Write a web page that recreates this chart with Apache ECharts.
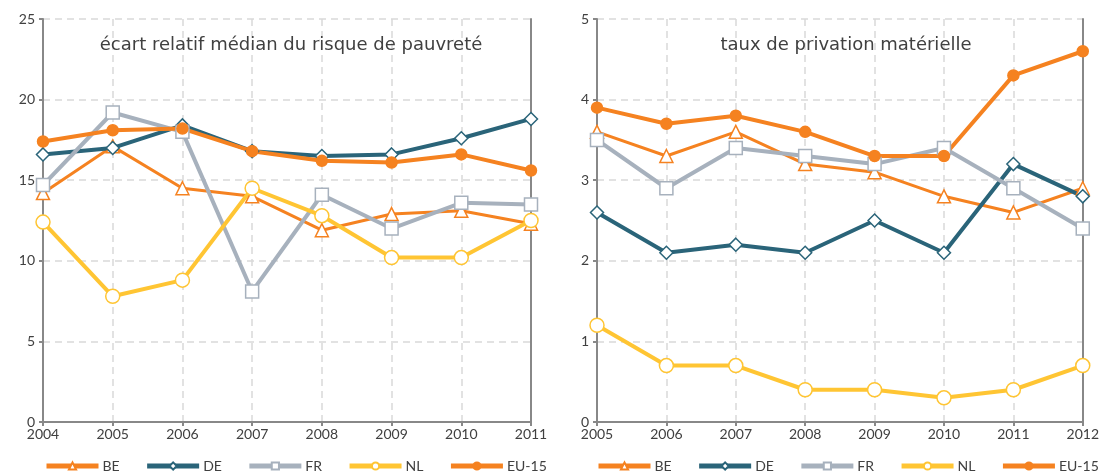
<!DOCTYPE html>
<html><head><meta charset="utf-8">
<script src="https://cdn.jsdelivr.net/npm/echarts@6/dist/echarts.min.js"></script>
<style>html,body{margin:0;padding:0;background:#fff}#c{width:1102px;height:476px}</style>
</head><body><div id="c"></div>
<script>
const seriesNames = ['BE','DE','FR','NL','EU-15'];
const yearsLeft = ['2004','2005','2006','2007','2008','2009','2010','2011'];
const yearsRight = ['2005','2006','2007','2008','2009','2010','2011','2012'];
const titleLeft = 'écart relatif médian du risque de pauvreté';
const titleRight = 'taux de privation matérielle';

const leftBE = [14.2, 17.1, 14.5, 14.0, 11.9, 12.9, 13.1, 12.3];
const leftDE = [16.6, 17.0, 18.4, 16.8, 16.5, 16.6, 17.6, 18.8];
const leftFR = [14.7, 19.2, 18.0, 8.1, 14.1, 12.0, 13.6, 13.5];
const leftNL = [12.4, 7.8, 8.8, 14.5, 12.8, 10.2, 10.2, 12.5];
const leftEU = [17.4, 18.1, 18.2, 16.8, 16.2, 16.1, 16.6, 15.6];

const rightBE = [3.6, 3.3, 3.6, 3.2, 3.1, 2.8, 2.6, 2.9];
const rightDE = [2.6, 2.1, 2.2, 2.1, 2.5, 2.1, 3.2, 2.8];
const rightFR = [3.5, 2.9, 3.4, 3.3, 3.2, 3.4, 2.9, 2.4];
const rightNL = [1.2, 0.7, 0.7, 0.4, 0.4, 0.3, 0.4, 0.7];
const rightEU = [3.9, 3.7, 3.8, 3.6, 3.3, 3.3, 4.3, 4.6];

const FONT = 'Lato';
const TFONT = 'DejaVu Sans';
const TXT = '#404040';
const AX = '#888888';
const GRIDC = '#d9d9d9';

const styles = {
  'BE':    {color:'#F58220', symbol:'triangle', size:13, width:3, fill:'#fff'},
  'DE':    {color:'#2A6479', symbol:'diamond', size:13, width:4, fill:'#fff'},
  'FR':    {color:'#A7B1BD', symbol:'rect', size:13, width:4, fill:'#fff'},
  'NL':    {color:'#FFC533', symbol:'circle', size:14, width:4, fill:'#fff'},
  'EU-15': {color:'#F58220', symbol:'circle', size:11, width:4, fill:'#F58220'}
};

function mk(name, data, idx){
  const s = styles[name];
  return {
    name, type:'line', data, xAxisIndex:idx*2, yAxisIndex:idx*2,
    symbol:s.symbol, symbolSize:s.size, showAllSymbol:true,
    lineStyle:{color:s.color, width:s.width},
    itemStyle:{color:s.fill, borderColor:s.color, borderWidth:1.5},
    emphasis:{disabled:true}, animation:false
  };
}

const leftData = [leftBE, leftDE, leftFR, leftNL, leftEU];
const rightData = [rightBE, rightDE, rightFR, rightNL, rightEU];

function xAx(idx, cats){
  return {
    type:'category', gridIndex:idx, data:cats, boundaryGap:false,
    axisLine:{lineStyle:{color:AX, width:2}},
    axisTick:{show:true, length:4, lineStyle:{color:AX, width:2}},
    axisLabel:{color:TXT, fontFamily:FONT, fontSize:14, margin:5, showMinLabel:true, showMaxLabel:true, interval:0},
    splitLine:{show:true, lineStyle:{color:GRIDC, width:1.5, type:[7,5]}}
  };
}
function xTop(idx, cats){
  return {
    type:'category', gridIndex:idx, data:cats, boundaryGap:false, position:'top',
    axisLine:{show:true, lineStyle:{color:AX, width:2}},
    axisTick:{show:false}, axisLabel:{show:false}, splitLine:{show:false}
  };
}
function yAx(idx, max, interval){
  return {
    type:'value', gridIndex:idx, min:0, max, interval,
    axisLine:{show:true, lineStyle:{color:AX, width:2}},
    axisTick:{show:true, length:4, lineStyle:{color:AX, width:2}},
    axisLabel:{color:TXT, fontFamily:FONT, fontSize:14, margin:8},
    splitLine:{show:true, lineStyle:{color:GRIDC, width:1.5, type:[7,5]}}
  };
}
function yRight(idx, max, interval){
  return {
    type:'value', gridIndex:idx, min:0, max, interval, position:'right',
    axisLine:{show:true, lineStyle:{color:AX, width:2}},
    axisTick:{show:false}, axisLabel:{show:false}, splitLine:{show:false}
  };
}

const series = [];
seriesNames.forEach((n,i)=>series.push(mk(n, leftData[i], 0)));
seriesNames.forEach((n,i)=>series.push(mk(n, rightData[i], 1)));

function legend(left){
  return {
    left, top:459, padding:0, itemWidth:52, itemHeight:9, itemGap:25,
    data:seriesNames, selectedMode:false,
    lineStyle:{width:5},
    textStyle:{color:TXT, fontFamily:FONT, fontSize:14, padding:[0,0,0,-1]}
  };
}

const chart = echarts.init(document.getElementById('c'), null, {renderer:'canvas'});
chart.setOption({
  animation:false,
  backgroundColor:'#fff',
  title:[
    {text:titleLeft, left:286, top:31, textAlign:'center', textStyle:{color:TXT, fontFamily:TFONT, fontSize:18, fontWeight:'normal'}},
    {text:titleRight, left:841, top:31, textAlign:'center', textStyle:{color:TXT, fontFamily:TFONT, fontSize:18, fontWeight:'normal'}}
  ],
  grid:[
    {left:43, right:571, top:19, bottom:54},
    {left:597, right:16, top:19, bottom:54}
  ],
  xAxis:[xAx(0, yearsLeft), xTop(0, yearsLeft), xAx(1, yearsRight), xTop(1, yearsRight)],
  yAxis:[yAx(0, 25, 5), yRight(0, 25, 5), yAx(1, 5, 1), yRight(1, 5, 1)],
  legend:[legend(44), legend(596)],
  series
});
</script></body></html>
